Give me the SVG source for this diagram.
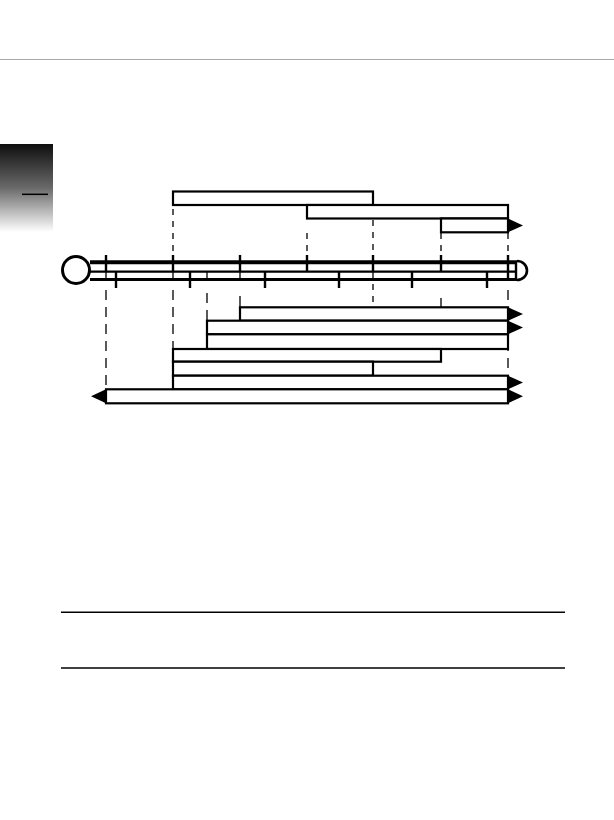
<svg xmlns="http://www.w3.org/2000/svg" width="614" height="820" viewBox="0 0 614 820">
<defs>
<linearGradient id="tabGrad" x1="0" y1="0" x2="0" y2="1">
<stop offset="0" stop-color="#0e0e0e"/>
<stop offset="0.5" stop-color="#6a6a6a"/>
<stop offset="1" stop-color="#ffffff"/>
</linearGradient>
<style>
.bar{fill:#fff;stroke:#000;stroke-width:2.2}
.ln{stroke:#000;fill:none}
.tick{stroke:#000;stroke-width:2.4}
.thin{stroke:#000;stroke-width:1.3}
.dash{stroke:#000;stroke-width:1.3;stroke-dasharray:6 6}
.dashL{stroke:#000;stroke-width:1.3;stroke-dasharray:10 7}
.arr{fill:#000}
</style>
</defs>
<rect width="614" height="820" fill="#fff"/>
<line x1="0" y1="59.5" x2="614" y2="59.5" stroke="#aaa" stroke-width="1.2"/>
<g id="tab">
<rect x="0" y="144" width="53" height="88" fill="url(#tabGrad)"/>
<line x1="22" y1="194.3" x2="48" y2="194.3" stroke="#000" stroke-width="1.5"/>
</g>
<g id="bottom-rules">
<line x1="61" y1="612.3" x2="565" y2="612.3" stroke="#000" stroke-width="1.5"/>
<line x1="61" y1="668" x2="565" y2="668" stroke="#000" stroke-width="1.5"/>
</g>
<g id="connectors">
<line class="dash" x1="173" y1="209" x2="173" y2="255"/>
<line class="dash" x1="307" y1="233" x2="307" y2="255"/>
<line class="dash" x1="373" y1="220" x2="373" y2="255"/>
<line class="dash" x1="441" y1="233" x2="441" y2="255"/>
<line class="dash" x1="508" y1="233" x2="508" y2="255"/>
<line class="dashL" x1="106" y1="290" x2="106" y2="389"/>
<line class="dashL" x1="173" y1="290" x2="173" y2="349"/>
<line class="dashL" x1="207" y1="293" x2="207" y2="321"/>
<line class="thin" x1="240" y1="296" x2="240" y2="307"/>
<line class="dash" x1="373" y1="284" x2="373" y2="307"/>
<line class="thin" x1="441" y1="298" x2="441" y2="307"/>
<line class="dashL" x1="508" y1="290" x2="508" y2="389"/>
</g>
<g id="track">
<circle cx="76" cy="270" r="13.5" fill="#fff" stroke="#000" stroke-width="3"/>
<line class="ln" x1="90" y1="262.3" x2="517" y2="262.3" stroke-width="4"/>
<line class="ln" x1="90" y1="271.6" x2="517" y2="271.6" stroke-width="2.2"/>
<line class="ln" x1="90" y1="279.5" x2="517" y2="279.5" stroke-width="3"/>
<path class="ln" d="M517,261 A10,9.5 0 0 1 517,280" stroke-width="2.6"/>
<g>
<line class="tick" x1="106" y1="255" x2="106" y2="272"/>
<line class="tick" x1="173" y1="255" x2="173" y2="272"/>
<line class="tick" x1="240" y1="255" x2="240" y2="272"/>
<line class="tick" x1="307" y1="255" x2="307" y2="272"/>
<line class="tick" x1="373" y1="255" x2="373" y2="272"/>
<line class="tick" x1="441" y1="255" x2="441" y2="272"/>
<line class="tick" x1="508" y1="255" x2="508" y2="280"/>
<line class="tick" x1="516" y1="262" x2="516" y2="280"/>
</g>
<g>
<line class="tick" x1="116" y1="271" x2="116" y2="288"/>
<line class="tick" x1="190" y1="271" x2="190" y2="288"/>
<line class="tick" x1="265" y1="271" x2="265" y2="288"/>
<line class="tick" x1="339" y1="271" x2="339" y2="288"/>
<line class="tick" x1="412" y1="271" x2="412" y2="288"/>
<line class="tick" x1="487" y1="271" x2="487" y2="288"/>
</g>
<g>
<line class="thin" x1="106" y1="271" x2="106" y2="280"/>
<line class="thin" x1="173" y1="271" x2="173" y2="280"/>
<line class="thin" x1="207" y1="271" x2="207" y2="280"/>
<line class="thin" x1="240" y1="271" x2="240" y2="280"/>
<line class="thin" x1="373" y1="271" x2="373" y2="280"/>
</g>
</g>
<g id="bar-top-1"><rect class="bar" x="173" y="191.5" width="200" height="13.5"/></g>
<g id="bar-top-2"><rect class="bar" x="307" y="205" width="201" height="13.5"/></g>
<g id="bar-top-3"><rect class="bar" x="441" y="218.5" width="67" height="13.8"/><polygon class="arr" points="508,218.5 523,225.4 508,232.3"/></g>
<g id="bar-a"><rect class="bar" x="240" y="307.3" width="268" height="13.4"/><polygon class="arr" points="508,307.3 523,314 508,320.7"/></g>
<g id="bar-b"><rect class="bar" x="207" y="320.7" width="301" height="13.6"/><polygon class="arr" points="508,320.7 523,327.5 508,334.3"/></g>
<g id="bar-c"><rect class="bar" x="207" y="334.3" width="301" height="14.7"/></g>
<g id="bar-d"><rect class="bar" x="173" y="349" width="268" height="12.7"/></g>
<g id="bar-e"><rect class="bar" x="173" y="361.7" width="200" height="14"/></g>
<g id="bar-f"><rect class="bar" x="173" y="375.7" width="335" height="13.6"/><polygon class="arr" points="508,375.7 523,382.5 508,389.3"/></g>
<g id="bar-g"><rect class="bar" x="106" y="389.3" width="402" height="14"/><polygon class="arr" points="508,389.3 523,396.3 508,403.3"/><polygon class="arr" points="106,389.3 91,396.3 106,403.3"/></g>
</svg>
